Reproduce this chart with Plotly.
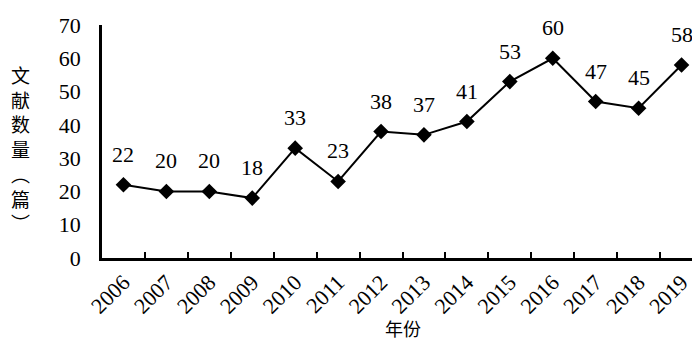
import plotly.graph_objects as go

years = ["2006", "2007", "2008", "2009", "2010", "2011", "2012",
         "2013", "2014", "2015", "2016", "2017", "2018", "2019"]
counts = [22, 20, 20, 18, 33, 23, 38, 37, 41, 53, 60, 47, 45, 58]
y_ticks = [0, 10, 20, 30, 40, 50, 60, 70]

serif = "Liberation Serif, Times New Roman, serif"
cjk = "Noto Sans CJK SC"

fig = go.Figure(go.Scatter(
    x=years, y=counts, mode="lines+markers",
    line=dict(color="black", width=2),
    marker=dict(symbol="diamond", size=12, color="black"),
    cliponaxis=False,
))

for i, v in enumerate(counts):
    fig.add_annotation(
        x=i, y=v, xref="x", yref="y", text=str(v), showarrow=False,
        yanchor="bottom", yshift=16,
        font=dict(family=serif, size=22, color="black"),
    )

fig.update_layout(
    width=700, height=342,
    margin=dict(l=94, r=5, t=10, b=92),
    paper_bgcolor="white", plot_bgcolor="white",
    showlegend=False,
    xaxis=dict(
        type="category", range=[-0.5, 13.5],
        showline=True, linecolor="black", linewidth=2.5,
        ticks="inside", tickson="boundaries", ticklen=6, tickwidth=2, tickcolor="black",
        tickangle=-45, showgrid=False, zeroline=False,
        tickfont=dict(family=serif, size=22, color="black"),
        title=dict(text=""),
    ),
    yaxis=dict(
        range=[0, 70], tickvals=y_ticks,
        showline=True, linecolor="black", linewidth=2.5,
        ticks="", showgrid=False, zeroline=False,
        ticklabelstandoff=14, ticklabeloverflow="allow",
        tickfont=dict(family=serif, size=22, color="black"),
        title=dict(text=""),
    ),
)

fig.add_annotation(
    text="年份", xref="paper", yref="paper", x=0.5, y=-0.3,
    xanchor="center", yanchor="middle", showarrow=False,
    font=dict(family=cjk, size=18, color="black"),
    borderpad=0,
)

fig.add_annotation(
    text="文<br>献<br>数<br>量<br>︵<br>篇<br>︶",
    xref="paper", yref="paper", x=-0.135, y=0.47,
    xanchor="center", yanchor="middle", showarrow=False,
    font=dict(family=cjk, size=19, color="black"),
    align="center",
)

fig.write_html("out.html")
